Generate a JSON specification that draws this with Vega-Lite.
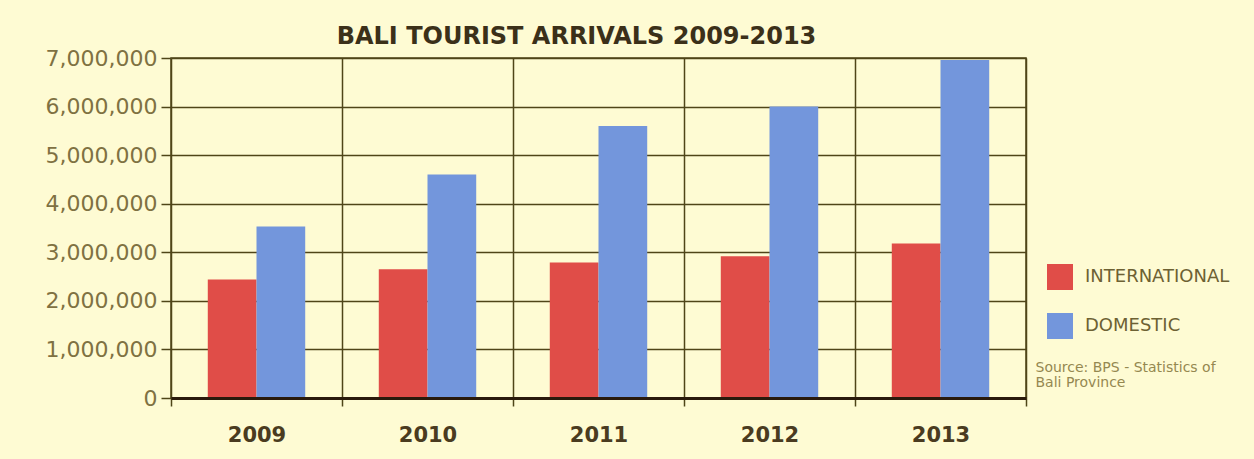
{
  "$schema": "https://vega.github.io/schema/vega-lite/v6.json",
  "autosize": "none",
  "width": 855,
  "height": 340,
  "padding": {"left": 171, "top": 58, "right": 228, "bottom": 61},
  "background": "#FEFBD3",
  "title": {
    "text": "BALI TOURIST ARRIVALS 2009-2013",
    "font": "DejaVu Sans",
    "fontSize": 24,
    "fontWeight": "bold",
    "color": "#3b3019",
    "anchor": "middle",
    "dx": -22,
    "offset": -2
  },
  "config": {
    "view": {"stroke": "#4f4518", "strokeWidth": 1.5}
  },
  "data": {
    "values": [
      {"year": "2009", "type": "INTERNATIONAL", "value": 2440000},
      {"year": "2009", "type": "DOMESTIC", "value": 3530000},
      {"year": "2010", "type": "INTERNATIONAL", "value": 2650000},
      {"year": "2010", "type": "DOMESTIC", "value": 4600000},
      {"year": "2011", "type": "INTERNATIONAL", "value": 2790000},
      {"year": "2011", "type": "DOMESTIC", "value": 5600000},
      {"year": "2012", "type": "INTERNATIONAL", "value": 2920000},
      {"year": "2012", "type": "DOMESTIC", "value": 6000000},
      {"year": "2013", "type": "INTERNATIONAL", "value": 3180000},
      {"year": "2013", "type": "DOMESTIC", "value": 6960000}
    ]
  },
  "mark": {"type": "bar"},
  "encoding": {
    "x": {
      "field": "year",
      "type": "nominal",
      "scale": {"paddingInner": 0, "paddingOuter": 0},
      "axis": {
        "title": null,
        "labelAngle": 0,
        "labelFont": "DejaVu Sans",
        "labelFontSize": 21,
        "labelFontWeight": "bold",
        "labelColor": "#4a3b20",
        "labelPadding": 18,
        "tickBand": "extent",
        "tickSize": 8,
        "tickColor": "#4f4518",
        "tickWidth": 1.5,
        "grid": true,
        "gridColor": "#4f4518",
        "gridWidth": 1.5,
        "gridOpacity": 1,
        "domain": true,
        "domainColor": "#2a1a0c",
        "domainWidth": 3,
        "zindex": 1
      }
    },
    "xOffset": {
      "field": "type",
      "type": "nominal",
      "sort": ["INTERNATIONAL", "DOMESTIC"],
      "scale": {"paddingInner": 0, "paddingOuter": 0.755}
    },
    "y": {
      "field": "value",
      "type": "quantitative",
      "scale": {"domain": [0, 7000000], "nice": false},
      "axis": {
        "values": [0, 1000000, 2000000, 3000000, 4000000, 5000000, 6000000, 7000000],
        "format": ",d",
        "labelFont": "DejaVu Sans",
        "labelFontSize": 22,
        "labelColor": "#7f7142",
        "labelPadding": 4,
        "tickSize": 10,
        "tickColor": "#4f4518",
        "tickWidth": 1.5,
        "grid": true,
        "gridColor": "#4f4518",
        "gridWidth": 1.5,
        "gridOpacity": 1,
        "domainColor": "#6b6030",
        "domainWidth": 1,
        "title": ["Source: BPS - Statistics of", "Bali Province"],
        "titleAngle": 0,
        "titleAlign": "left",
        "titleBaseline": "top",
        "titleX": 864,
        "titleY": 302,
        "titleFont": "DejaVu Sans",
        "titleFontSize": 14,
        "titleFontWeight": "normal",
        "titleColor": "#958850",
        "titleLineHeight": 15
      }
    },
    "color": {
      "field": "type",
      "type": "nominal",
      "sort": ["INTERNATIONAL", "DOMESTIC"],
      "scale": {"domain": ["INTERNATIONAL", "DOMESTIC"], "range": ["#E04D48", "#7396DC"]},
      "legend": {
        "title": null,
        "orient": "none",
        "legendX": 876,
        "legendY": 206,
        "padding": 0,
        "symbolType": "square",
        "symbolSize": 676,
        "symbolStrokeWidth": 0,
        "symbolOpacity": 1,
        "labelFont": "DejaVu Sans",
        "labelFontSize": 18,
        "labelColor": "#6d6133",
        "labelOffset": 12,
        "rowPadding": 23
      }
    }
  }
}
